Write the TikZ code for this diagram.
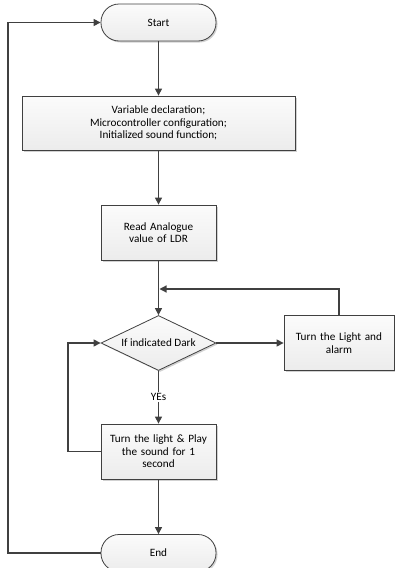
\documentclass[tikz,border=0pt]{standalone}
\usepackage{fontspec}
\setmainfont{Carlito}
\usetikzlibrary{shapes.geometric,arrows.meta,shadows}
\definecolor{linec}{HTML}{404040}
\begin{document}
\begin{tikzpicture}[x=1pt,y=-1pt,
  conn/.style={draw=linec, line width=1.2pt},
  arr/.style={conn, -{Triangle[length=7pt,width=7pt]}},
  boxfill/.style={draw=linec, line width=0.8pt, top color=gray!3, bottom color=gray!15,
    drop shadow={shadow xshift=1.5pt, shadow yshift=-1.5pt, fill=black, opacity=0.18}},
  txt/.style={font=\fontsize{11.2}{12.5}\selectfont, align=center, text=black},
  proc/.style={boxfill, txt, rectangle, inner sep=0pt, minimum height=55pt},
  term/.style={boxfill, txt, rectangle, rounded corners=18pt, inner sep=0pt,
    minimum width=115pt, minimum height=37pt},
  deci/.style={boxfill, txt, diamond, inner sep=0pt, aspect=2.1,
    minimum width=115pt, minimum height=55pt}]
\useasboundingbox (0,0) rectangle (395,568);

\node[term] (start) at (158.5,22.5) {Start};
\node[proc, minimum width=273pt, minimum height=54pt] (b1) at (158.5,123)
  {Variable declaration;\\Microcontroller configuration;\\Initialized sound function;};
\node[proc, minimum width=115pt, text width=105pt] (b2) at (158.5,232.5)
  {Read Analogue\\value of LDR};
\coordinate (j) at (158.5,289);
\node[deci] (dia) at (158.5,343) {If indicated Dark};
\node[proc, minimum width=110pt, text width=105pt] (rb) at (339,343)
  {Turn the Light and\\alarm};
\node[txt, fill=white, inner sep=1pt] (yes) at (158.5,397) {YEs};
\node[proc, minimum width=115pt, text width=112pt] (b3) at (158.5,451.5)
  {Turn the light \& Play\\the sound for 1\\second};
\node[term] (end) at (158.5,553) {End};

\draw[arr] (start) -- (b1);
\draw[arr] (b1) -- (b2);
\draw[conn] (b2) -- (j);
\draw[arr] (j) -- (dia);
\draw[arr] (dia) -- (rb);
\draw[arr] (rb.north) |- ([xshift=1pt]j);
\draw[conn] (dia) -- (yes);
\draw[arr] (yes) -- (b3);
\draw[arr] (b3.west) -- (68,451.5) |- (dia.west);
\draw[arr] (b3) -- (end);
\draw[arr] (end.west) -- (8,553) |- (start.west);
\end{tikzpicture}
\end{document}
